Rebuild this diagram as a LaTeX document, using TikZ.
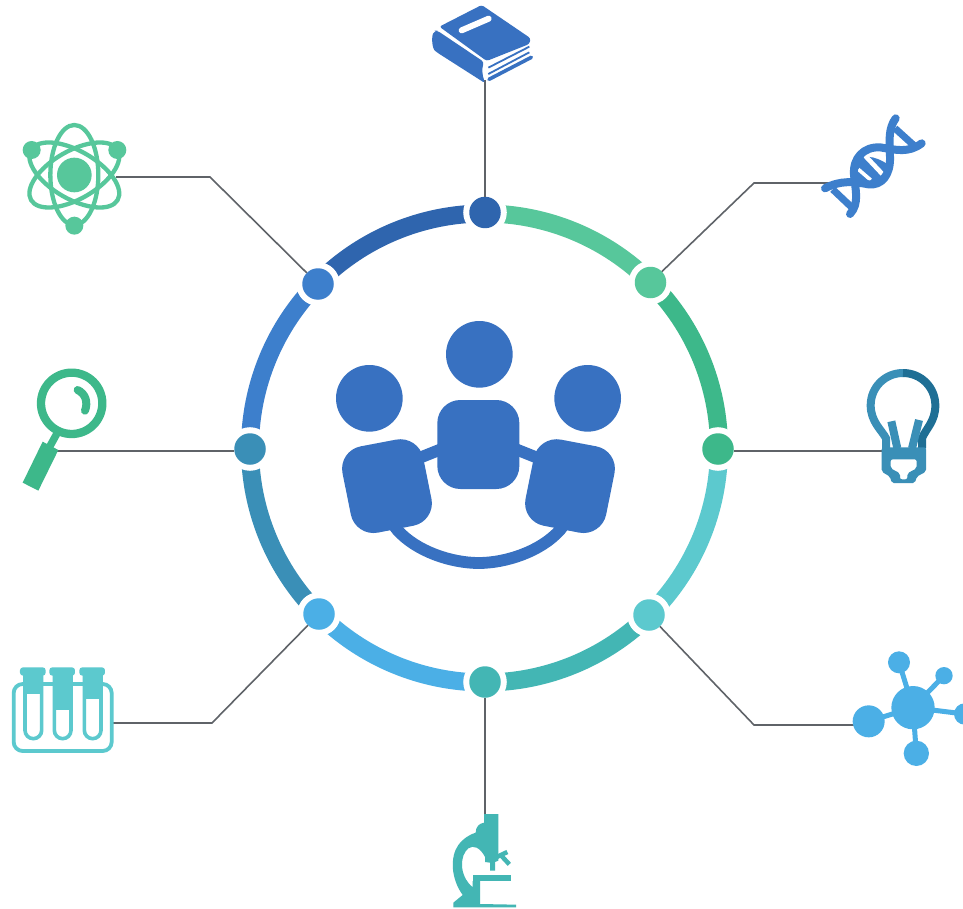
\documentclass[tikz,border=0pt]{standalone}
\definecolor{cNavy}{HTML}{2F65AE}
\definecolor{cMint}{HTML}{57C79B}
\definecolor{cGreen}{HTML}{3DB88A}
\definecolor{cAqua}{HTML}{5CC9CE}
\definecolor{cTeal}{HTML}{43B6B4}
\definecolor{cSky}{HTML}{4BAFE6}
\definecolor{cSteel}{HTML}{3A8FB7}
\definecolor{cBlue}{HTML}{3D7FCC}
\definecolor{cPeople}{HTML}{3871C1}
\definecolor{cBook}{HTML}{3871C1}
\definecolor{cBulbDark}{HTML}{1F6F95}
\definecolor{cLine}{HTML}{5F6368}
\tikzset{
  x=1pt,y=-1pt,
  ringarc/.style={line width=18pt,draw=#1},
  ringdot/.style={circle,fill=#1,minimum size=31.5pt,inner sep=0pt,outer sep=0pt,
    preaction={draw=white,line width=12pt}},
  connector/.style={draw=cLine,line width=1.6pt},
  icon/.style 2 args={shift={(#1,#2)},scale=0.33333},
}
\begin{document}
\begin{tikzpicture}
\useasboundingbox (0,0) rectangle (963,909);
\fill[white] (0,0) rectangle (963,909);
\coordinate (hub) at (484.5,448);
% ring segments
\foreach \a/\b/\c in {-90/-45/cMint,-45/0/cGreen,0/45/cAqua,45/90/cTeal,90/135/cSky,135/180/cSteel,180/225/cBlue,225/270/cNavy}{
  \draw[ringarc=\c] (hub) ++(\a:234.5) arc[start angle=\a,end angle=\b,radius=234.5];
}
% dots
\node[ringdot=cNavy]  (dN)  at (485,212.5) {};
\node[ringdot=cMint]  (dNE) at (650.5,282.5) {};
\node[ringdot=cGreen] (dE)  at (718,449) {};
\node[ringdot=cAqua]  (dSE) at (649,615) {};
\node[ringdot=cTeal]  (dS)  at (485,682) {};
\node[ringdot=cSky]   (dSW) at (319,614) {};
\node[ringdot=cSteel] (dW)  at (250,449) {};
\node[ringdot=cBlue]  (dNW) at (318,284) {};
% connector ends
\coordinate (iN) at (485,80);
\coordinate (bNE) at (754,183); \coordinate (iNE) at (830,183);
\coordinate (iE) at (885,451);
\coordinate (bSE) at (754,725); \coordinate (iSE) at (858,725);
\coordinate (iS) at (485,815);
\coordinate (bSW) at (212,723); \coordinate (iSW) at (113,723);
\coordinate (iW) at (57,451);
\coordinate (bNW) at (210,177); \coordinate (iNW) at (116,177);
\draw[connector] (dN) -- (iN);
\draw[connector] (dNE) -- (bNE) -- (iNE);
\draw[connector] (dE.east |- iE) -- (iE);
\draw[connector] (dSE) -- (bSE) -- (iSE);
\draw[connector] (dS) -- (iS);
\draw[connector] (dSW) -- (bSW) -- (iSW);
\draw[connector] (dW.west |- iW) -- (iW);
\draw[connector] (dNW) -- (bNW) -- (iNW);
% people
\begin{scope}[icon={320}{310}]
  \fill[cPeople] (478,133) circle[radius=100];
  \fill[cPeople] (148,265) circle[radius=100];
  \fill[cPeople] (803,265) circle[radius=100];
  \draw[cPeople,line width=11.8pt] (205,625) -- (232,660) .. controls (290,725) and (395,759) .. (476,759) .. controls (557,759) and (662,725) .. (720,660) -- (747,625);
  \draw[cPeople,line width=11.8pt] (295,445) -- (360,419);
  \draw[cPeople,line width=11.8pt] (656,445) -- (591,419);
  \fill[cPeople,rounded corners=23pt] (352,270) rectangle (598,537);
  \fill[cPeople,rounded corners=23pt] (54,422) -- (296,376) -- (348,634) -- (106,681) -- cycle;
  \fill[cPeople,rounded corners=23pt] (897,422) -- (655,376) -- (603,634) -- (845,681) -- cycle;
\end{scope}
% book
\begin{scope}[icon={410}{0}]
  \fill[cBook,rounded corners=2.5pt] (88,80) -- (215,15) -- (362,115) -- (358,132) -- (230,183) -- cycle;
  \draw[white,line width=6pt,line cap=round] (155,91) -- (236,56);
  \fill[cBook,rounded corners=3pt] (82,92) -- (222,186) .. controls (216,205) and (216,225) .. (226,250) -- (82,158) .. controls (66,145) and (64,110) .. (74,92) -- cycle;
  \draw[cBook,line width=1.8pt] (235,203) -- (358,140);
  \draw[cBook,line width=1.8pt] (235,222) -- (358,157);
  \draw[cBook,line width=3.6pt,line cap=round] (237,238) -- (364,172);
\end{scope}
% DNA
\begin{scope}[icon={800}{100}]
  \fill[cBlue] (160,190) .. controls (190,150) and (250,180) .. (272,200) .. controls (260,240) and (215,260) .. (170,245) -- cycle;
  \draw[white,line width=4.6pt] (196,168) -- (247,222);
  \draw[white,line width=3.6pt] (175,208) -- (212,240);
  \draw[cBlue,line width=8pt,line cap=round,line join=round] (75,265) .. controls (120,240) and (165,245) .. (205,253) .. controls (245,258) and (272,225) .. (270,170) .. controls (268,120) and (265,85) .. (287,55);
  \draw[cBlue,line width=8pt,line cap=round,line join=round] (150,342) .. controls (180,310) and (165,265) .. (162,225) .. controls (158,175) and (190,140) .. (240,142) .. controls (290,150) and (325,160) .. (365,130);
  \draw[cBlue,line width=7pt] (98,268) -- (155,322);
  \draw[cBlue,line width=7pt] (285,85) -- (348,142);
\end{scope}
% bulb
\begin{scope}[icon={850}{360}]
  \draw[cSteel,line width=8pt] (108,265) -- (108,235) .. controls (95,210) and (62,185) .. (62,136) .. controls (62,82) and (105,39) .. (159,39);
  \draw[cBulbDark,line width=8pt] (159,39) .. controls (213,39) and (256,82) .. (256,136) .. controls (256,185) and (228,205) .. (216,235) -- (216,265);
  \draw[cSteel,line width=8pt] (124,184) -- (142,265);
  \draw[cSteel,line width=8pt] (207,180) -- (186,265);
  \fill[cSteel,even odd rule,rounded corners=2pt] (95,262) -- (228,262) -- (228,335) -- (200,350) -- (195,369) -- (125,369) -- (120,350) -- (95,335) -- cycle
    (122,298) -- (200,298) -- (200,325) -- (172,340) -- (172,358) -- (150,358) -- (150,340) -- (122,325) -- cycle;
\end{scope}
% molecule
\begin{scope}[icon={843}{640}]
  \begin{scope}
  \clip (0,0) rectangle (360,390);
  \draw[cSky,line width=5pt] (210,203) -- (77,244) (210,203) -- (168,67) (210,203) -- (303,107) (210,203) -- (220,340) (210,203) -- (365,222);
  \fill[cSky] (210,203) circle[radius=65];
  \fill[cSky] (77,244) circle[radius=48];
  \fill[cSky] (168,67) circle[radius=33];
  \fill[cSky] (303,107) circle[radius=26];
  \fill[cSky] (220,340) circle[radius=38];
  \fill[cSky] (365,222) circle[radius=32];
  \end{scope}
\end{scope}
% microscope
\begin{scope}[icon={430}{800}]
  \fill[cTeal,even odd rule] (70,322) -- (70,308) -- (98,285) .. controls (62,235) and (60,170) .. (85,135) .. controls (100,115) and (120,103) .. (137,98) .. controls (137,80) and (148,70) .. (162,68) -- (162,42) -- (205,42) -- (205,155) -- (168,176) .. controls (150,140) and (130,135) .. (115,145) .. controls (90,165) and (85,225) .. (128,262) -- (128,243) -- (150,243) -- (150,312) -- (258,314) -- (258,322) -- cycle;
  \fill[cTeal] (128,225) rectangle (242,243);
  \fill[cTeal] (165,160) -- (205,155) -- (205,182) -- (195,186) -- (195,212) -- (180,212) -- (180,188) -- (165,186) -- cycle;
  \draw[cTeal,line width=4.5pt] (198,172) -- (232,156);
  \draw[cTeal,line width=4.5pt] (212,165) -- (238,193);
\end{scope}
% test tubes
\begin{scope}[icon={0}{655}]
  \draw[cAqua,line width=3.8pt,rounded corners=9pt] (41,87) rectangle (335,288);
  \foreach \cx/\lvl in {100/117,188/165,278/133}{
    \fill[white] (\cx-26,60) -- (\cx+26,60) -- (\cx+26,225) arc[start angle=0,end angle=180,radius=26] -- cycle;
    \fill[cAqua] (\cx-26,60) rectangle (\cx+26,\lvl);
    \draw[cAqua,line width=3.6pt] (\cx-25,60) -- (\cx-25,226) arc[start angle=180,end angle=0,radius=25] -- (\cx+25,60);
    \fill[cAqua,rounded corners=3pt] (\cx-40,37) rectangle (\cx+37,62);
    \fill[cAqua] (\cx-29,60) rectangle (\cx+28,82);
  }
\end{scope}
% magnifier
\begin{scope}[icon={10}{360}]
  \draw[cGreen,line width=8.3pt] (185,130) circle[radius=92];
  \draw[cGreen,line width=8pt,line cap=round] (203,90) .. controls (228,102) and (234,128) .. (225,152);
  \draw[cGreen,line width=7.5pt] (140,222) -- (118,262);
  \fill[cGreen] (98,245) -- (145,270) -- (85,392) -- (38,368) -- cycle;
\end{scope}
% atom
\begin{scope}[icon={10}{115}]
  \draw[cMint,line width=4.3pt] (193,180) ellipse[x radius=72,y radius=150];
  \draw[cMint,line width=4.3pt,rotate around={60:(193,180)}] (193,180) ellipse[x radius=72,y radius=150];
  \draw[cMint,line width=4.3pt,rotate around={-60:(193,180)}] (193,180) ellipse[x radius=72,y radius=150];
  \fill[white] (193,180) circle[radius=60];
  \fill[cMint] (193,180) circle[radius=52];
  \fill[cMint] (65,105) circle[radius=27];
  \fill[cMint] (322,105) circle[radius=27];
  \fill[cMint] (193,332) circle[radius=27];
\end{scope}
\end{tikzpicture}
\end{document}
